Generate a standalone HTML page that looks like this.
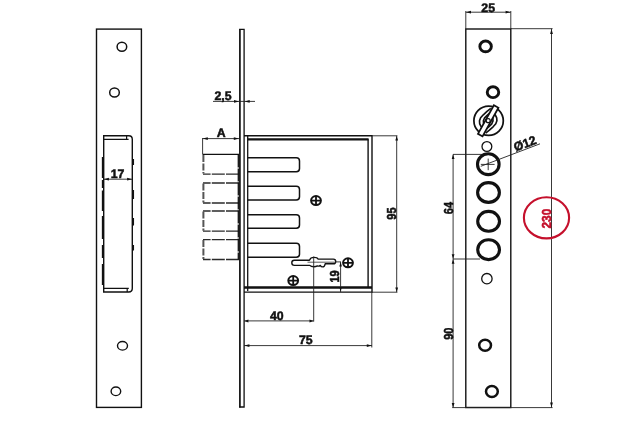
<!DOCTYPE html>
<html lang="en">
<head>
<meta charset="utf-8">
<title>Lock dimensions drawing</title>
<style>
  html, body { margin: 0; padding: 0; background: #ffffff; }
  body { width: 625px; height: 426px; overflow: hidden; }
  svg { display: block; will-change: transform; }
  text { font-family: "Liberation Sans", sans-serif; font-weight: bold; font-size: 12.3px; fill: #111; stroke: #111; stroke-width: 0.5px; text-rendering: geometricPrecision; }
  .ln { stroke: #111; fill: none; }
  .thin { stroke: #222; stroke-width: 0.9; fill: none; }
  .dash { stroke: #2a2a2a; stroke-width: 1.3; fill: none; stroke-dasharray: 13 1.2; }
  .dashv { stroke: #555; stroke-width: 2; fill: none; stroke-dasharray: 7 1.5; }
  .ar { fill: #111; stroke: none; }
</style>
</head>
<body>
<svg width="625" height="426" viewBox="0 0 625 426">
  <rect x="0" y="0" width="625" height="426" fill="#ffffff"/>

  <!-- ============ LEFT: strike plate ============ -->
  <g id="left-plate">
    <rect class="ln" x="96.5" y="29.1" width="44.9" height="378.3" stroke-width="1.4"/>
    <ellipse class="ln" cx="121.9" cy="46.7" rx="4.8" ry="4.5" stroke-width="1.5"/>
    <ellipse class="ln" cx="114.5" cy="92.5" rx="4.8" ry="4.5" stroke-width="1.5"/>
    <ellipse class="ln" cx="122.5" cy="345.8" rx="5" ry="4.3" stroke-width="1.4"/>
    <ellipse class="ln" cx="115.9" cy="391.3" rx="4.8" ry="4.3" stroke-width="1.4"/>
    <!-- slot -->
    <path class="ln" stroke-width="1.4" d="M103.7 292 L103.7 135.7 L128.8 135.7 Q132.3 135.7 132.3 139.4 L132.3 288.3 Q132.3 292 128.8 292 Z"/>
    <path class="ln" stroke-width="1.2" d="M103.7 139.3 L128.6 139.3 M126.6 135.7 L126.6 139.3 M103.7 288.4 L128.8 288.4 M127.2 288.4 L127.2 292"/>
    <!-- thick hidden segments on the slot sides -->
    <path class="ln" stroke-width="1.3" d="M102.5 157 L102.5 178 M102.5 180 L102.5 188 M102.5 190.5 L102.5 211 M102.5 216 L102.5 239 M102.5 245 L102.5 258 M102.5 264 L102.5 285 M133.4 159 L133.4 165 M133.4 190 L133.4 199 M133.4 218 L133.4 225.5 M133.4 245 L133.4 250.5"/>
    <!-- 17 -->
    <path class="thin" d="M103.7 179.2 L132.3 179.2"/>
    <path class="ar" d="M103.9 179.2 l5 -1.4 v2.8 z M132.1 179.2 l-5 -1.4 v2.8 z"/>
    <text x="117.6" y="178.3" text-anchor="middle">17</text>
  </g>

  <!-- ============ MIDDLE: lock side view ============ -->
  <g id="lock-side">
    <!-- faceplate -->
    <path class="ln" stroke-width="1.7" d="M239.9 29 L239.9 407.4"/>
    <path class="ln" stroke-width="1.3" d="M244.1 29 L244.1 407.4 M239.1 29.3 L244.7 29.3 M239.1 407 L244.7 407"/>
    <!-- body -->
    <path class="ln" stroke-width="1.4" d="M244 135.8 L372 135.8 L372 292.1 L244 292.1"/>
    <path class="ln" stroke-width="1.3" d="M247.7 135.9 L247.7 291"/>
    <path class="ln" stroke-width="2.3" d="M247.7 139.4 L368.6 139.4 M244 287.5 L372 287.5"/>
    <path class="ln" stroke-width="1.4" d="M368.1 139.3 L368.1 287.5"/>
    <!-- solid bolts -->
    <path class="ln" stroke-width="1.5" d="M247.7 157.7 L296.3 157.7 Q299.5 157.7 299.5 160.9 L299.5 168.6 Q299.5 171.8 296.3 171.8 L247.7 171.8"/>
    <path class="ln" stroke-width="1.5" d="M247.7 186.2 L296.3 186.2 Q299.5 186.2 299.5 189.4 L299.5 196.7 Q299.5 199.9 296.3 199.9 L247.7 199.9"/>
    <path class="ln" stroke-width="1.5" d="M247.7 214.8 L296.3 214.8 Q299.5 214.8 299.5 218 L299.5 225.1 Q299.5 228.3 296.3 228.3 L247.7 228.3"/>
    <path class="ln" stroke-width="1.5" d="M247.7 243.2 L296.3 243.2 Q299.5 243.2 299.5 246.4 L299.5 254 Q299.5 257.2 296.3 257.2 L247.7 257.2"/>
    <!-- projected (dashed) bolts -->
    <path class="ln" stroke-width="1.1" stroke="#222" d="M202.6 154.4 L239 154.4"/>
    <path class="dash" d="M239 183 L203 183 M239 203 L203 203 M239 211 L203 211 M239 231.2 L203 231.2 M239 239.6 L203 239.6 M239 259.5 L203 259.5 M239 174.1 L203 174.1"/>
    <path class="dashv" d="M203.4 154.9 L203.4 173.6 M203.4 183.5 L203.4 202.5 M203.4 211.5 L203.4 230.7 M203.4 240.1 L203.4 259"/>
    <path class="ln" stroke="#222" stroke-width="1.3" stroke-dasharray="13 1" d="M238.3 154.4 L238.3 259.5"/>
    <!-- screws -->
    <g class="ln" stroke-width="2">
      <ellipse cx="316.0" cy="200.6" rx="4.9" ry="4.5"/><path stroke-width="1.8" d="M311.2 200.6 h9.6 M316.0 196.2 v8.8"/>
      <ellipse cx="293.2" cy="280.6" rx="4.9" ry="4.5"/><path stroke-width="1.8" d="M288.4 280.6 h9.6 M293.2 276.2 v8.8"/>
      <ellipse cx="348.0" cy="262.8" rx="4.9" ry="4.5"/><path stroke-width="1.8" d="M343.2 262.8 h9.6 M348.0 258.4 v8.8"/>
    </g>
    <!-- keyhole -->
    <path class="ln" stroke-width="1.4" stroke-linejoin="round" d="M294.4 260.3 L309.4 260.3 Q310.4 257.4 314 257.4 Q317.4 257.4 318 259.1 L333.4 259.1 Q335.7 259.1 335.7 261.4 Q335.7 263.8 333.4 263.8 L325.2 263.8 Q324.6 266.9 322.6 266.9 Q321 266.9 320.4 265.4 Q319 266.6 317.4 265.9 Q315.8 266.8 314 266.8 Q311 266.8 309.8 265.4 L294.4 265.4 Q291.8 265.4 291.8 262.85 Q291.8 260.3 294.4 260.3 Z"/>
    <path class="ln" stroke="#555" stroke-width="0.7" d="M307.5 262.2 L334.6 262.2"/>
    <!-- 2,5 -->
    <path class="thin" d="M213 101.4 L255 101.4"/>
    <path class="ar" d="M239 101.4 l-5 -1.4 v2.8 z M244.7 101.4 l5 -1.4 v2.8 z"/>
    <text x="214.4" y="100.1">2,5</text>
    <!-- A -->
    <path class="thin" d="M202.6 138.6 L239 138.6 M202.6 138 L202.6 154.4"/>
    <path class="ar" d="M202.8 138.6 l5 -1.4 v2.8 z M238.8 138.6 l-5 -1.4 v2.8 z"/>
    <text x="221.3" y="137.2" text-anchor="middle">A</text>
    <!-- 95 -->
    <path class="thin" d="M372 135.8 L397.4 135.8 M372 292.2 L397.4 292.2 M396.7 135.8 L396.7 292.2"/>
    <path class="ar" d="M396.7 136 l-1.4 4.5 h2.8 z M396.7 292 l-1.4 -4.5 h2.8 z"/>
    <text transform="translate(396.3 213.6) rotate(-90) scale(0.89 1.06)" text-anchor="middle">95</text>
    <!-- 19 -->
    <path class="thin" d="M335 261.9 L341 261.9 M340.6 261.9 L340.6 292"/>
    <path class="ar" d="M340.6 262.1 l-1.3 4.5 h2.6 z M340.6 291.6 l-1.3 -4.5 h2.6 z"/>
    <text transform="translate(339.1 276.5) rotate(-90) scale(0.89 1.06)" text-anchor="middle">19</text>
    <!-- 40 -->
    <path class="thin" d="M313.7 256.5 L313.7 321.6 M244 320.9 L313.7 320.9"/>
    <path class="ar" d="M244.4 320.9 l4 -1.5 v3 z M313.5 320.9 l-4 -1.5 v3 z"/>
    <text x="276.8" y="320.4" text-anchor="middle">40</text>
    <!-- 75 -->
    <path class="thin" d="M371.8 292 L371.8 347.5 M244 345.6 L372 345.6"/>
    <path class="ar" d="M244.4 345.6 l5 -1.4 v2.8 z M371.8 345.6 l-5 -1.4 v2.8 z"/>
    <text x="305.8" y="344.3" text-anchor="middle">75</text>
  </g>

  <!-- ============ RIGHT: front plate ============ -->
  <g id="front-plate">
    <rect class="ln" x="465.8" y="29" width="45" height="378.5" stroke-width="1.4"/>
    <!-- 25 -->
    <path class="thin" d="M465.8 29 L465.8 11 M510.8 29 L510.8 11 M465.8 12.2 L510.8 12.2"/>
    <path class="ar" d="M466 12.2 l5 -1.4 v2.8 z M510.6 12.2 l-5 -1.4 v2.8 z"/>
    <text x="488.2" y="12" text-anchor="middle">25</text>
    <!-- 230 -->
    <path class="thin" d="M510.8 28.7 L552.6 28.7 M452.2 407.6 L552.6 407.6 M551.5 28.7 L551.5 407.6"/>
    <path class="ar" d="M551.5 28.9 l-1.4 5 h2.8 z M551.5 407.4 l-1.4 -5 h2.8 z"/>
    <!-- 64 / 90 -->
    <path class="thin" d="M453 154.4 L488 154.4 M453 259 L480 259 M453.1 154.4 L453.1 407.6"/>
    <path class="ar" d="M453.1 154.6 l-1.4 4.5 h2.8 z M453.1 258.8 l-1.4 -4.5 h2.8 z M453.1 259.2 l-1.4 4.5 h2.8 z M453.1 407.4 l-1.4 -4.5 h2.8 z"/>
    <text transform="translate(452.6 208.1) rotate(-90) scale(0.89 1.06)" text-anchor="middle">64</text>
    <text transform="translate(452.6 333.7) rotate(-90) scale(0.89 1.06)" text-anchor="middle">90</text>
    <!-- fixing holes -->
    <g class="ln" stroke-width="2.9">
      <ellipse cx="485.6" cy="46.4" rx="5.75" ry="5.4"/>
      <ellipse cx="493" cy="92.2" rx="5.75" ry="5.4"/>
    </g>
    <g class="ln" stroke-width="2.5">
      <ellipse cx="485.1" cy="345.2" rx="5.9" ry="5.5"/>
      <ellipse cx="491.9" cy="391.5" rx="5.9" ry="5.5"/>
    </g>
    <!-- cylinder symbol -->
    <g class="ln" stroke-width="1.75">
      <circle cx="488.6" cy="120.7" r="14.7"/>
      <path stroke-width="1.65" stroke-linejoin="round" d="M490.8 108.4 L487.0 111.4 L483.3 114.8 L480.6 117.8 L479.5 120.8 L479.7 123.8 L481.0 126.4 L482.5 127.9 M491.6 111.6 L487.7 114.8 L484.6 117.8 L483.4 120.7 L483.6 123.5 L485.2 126.0 M485.6 133.2 L489.4 130.2 L493.1 126.8 L495.8 123.8 L496.9 120.8 L496.7 117.8 L495.4 115.2 L493.9 113.7 M484.8 130.0 L488.7 126.8 L491.8 123.8 L493.0 120.9 L492.8 118.1 L491.2 115.6"/>
      <g transform="translate(488.2 120.8) rotate(-61)">
        <rect x="-16.4" y="-2.6" width="32.8" height="5.2" fill="#fff"/>
      </g>
      <circle cx="488.2" cy="120.7" r="2" fill="#fff" stroke-width="1.2"/>
    </g>
    <!-- small holes -->
    <circle class="ln" cx="486.9" cy="146.5" r="4.9" stroke-width="1.3"/>
    <circle class="ln" cx="486.9" cy="278.7" r="5.2" stroke-width="1.3"/>
    <!-- bolt holes -->
    <g class="ln" stroke-width="3.1">
      <ellipse cx="488.3" cy="164.2" rx="10.8" ry="10.4"/>
      <ellipse cx="488.5" cy="192.5" rx="10.9" ry="9.9"/>
      <ellipse cx="488.6" cy="221.3" rx="10.9" ry="9.9"/>
      <ellipse cx="488.6" cy="249.7" rx="10.9" ry="9.9"/>
    </g>
    <!-- crosshair, leader, diameter -->
    <path class="thin" d="M480.8 164.4 L494.6 164.4 M488.2 158.6 L488.2 170.2 M480.8 166.3 L540 143.8"/>
    <text transform="translate(515.4 151.4) rotate(-20)" style="font-size:12.3px">Ø12</text>
    <!-- highlighted overall length -->
    <ellipse cx="546.5" cy="217.8" rx="22.6" ry="20.6" fill="none" stroke="#c5102c" stroke-width="2.1"/>
    <text transform="translate(550.8 218.6) rotate(-90) scale(0.96 1.06)" text-anchor="middle" style="fill:#c5102c;stroke:#c5102c">230</text>
  </g>
</svg>
</body>
</html>
